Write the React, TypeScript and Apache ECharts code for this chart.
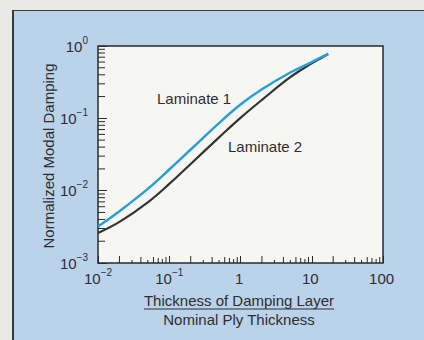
import React, { useEffect, useRef } from 'react';
import * as echarts from 'echarts';

// Thickness of damping layer / nominal ply thickness
const X_VALUES = [0.01, 0.02, 0.05, 0.1, 0.2, 0.5, 1, 2, 5, 10, 13, 17];
// Normalized modal damping
const LAMINATE_1 = [0.0032, 0.0052, 0.0106, 0.0196, 0.0371, 0.086, 0.155, 0.252, 0.43, 0.60, 0.684, 0.775];
const LAMINATE_2 = [0.0026, 0.0037, 0.0069, 0.0124, 0.0234, 0.0545, 0.1016, 0.18, 0.37, 0.575, 0.665, 0.775];

const X_TICK_LABELS = [['10', '\u22122'], ['10', '\u22121'], ['1', ''], ['10', ''], ['100', '']];
const Y_TICK_LABELS = [['10', '\u22123'], ['10', '\u22122'], ['10', '\u22121'], ['10', '0']];

const MINOR_MULTIPLIERS = [2, 3, 4, 5, 6, 7, 8, 9];
const X_DECADES = [0.01, 0.1, 1, 10];
const Y_DECADES = [0.001, 0.01, 0.1];

const TEXT = '#2e2e2e';
const FONT = '"Liberation Sans", Arial, sans-serif';
const X_MINOR_LEN: Record<number, number> = { 2: 7, 3: 3, 4: 6, 5: 3, 6: 6, 7: 5, 8: 4, 9: 6 };
const Y_MINOR_LEN = 7;

export default function App() {
  const ref = useRef<HTMLDivElement>(null);
  useEffect(() => {
    document.body.style.margin = '0';
    const chart = echarts.init(ref.current!, null, { renderer: 'svg' });

    const rich = {
      b: { fontSize: 15, fontFamily: FONT, color: TEXT },
      s: { fontSize: 10, fontFamily: FONT, color: TEXT, padding: [0, 0, 12, 0] },
    };
    const fmt = (labels: string[][], offset: number) => (v: number) => {
      const idx = Math.round(Math.log10(v)) + offset;
      const l = labels[idx];
      if (!l) return '';
      return `{b|${l[0]}}{s|${l[1] || ' '}}`;
    };

    const xMinor: number[][] = [];
    X_DECADES.forEach((d) => MINOR_MULTIPLIERS.forEach((m) => xMinor.push([d * m, 0.001, m])));
    const yMinor: number[][] = [];
    Y_DECADES.forEach((d) => MINOR_MULTIPLIERS.forEach((m) => yMinor.push([0.01, d * m, m])));

    const option: any = {
      animation: false,
      grid: {
        left: 98,
        right: 41,
        top: 46,
        bottom: 77,
        show: true,
        backgroundColor: '#f6f6f3',
        borderColor: '#2a2a2a',
        borderWidth: 1.5,
      },
      xAxis: {
        type: 'log',
        logBase: 10,
        min: 0.01,
        max: 100,
        axisLine: { show: false },
        splitLine: { show: false },
        axisTick: { show: true, inside: true, length: 7, lineStyle: { color: '#2a2a2a', width: 1 } },
        axisLabel: { formatter: fmt(X_TICK_LABELS, 2), rich, margin: 4 },
      },
      yAxis: {
        type: 'log',
        logBase: 10,
        min: 0.001,
        max: 1,
        axisLine: { show: false },
        splitLine: { show: false },
        axisTick: { show: true, inside: true, length: 9, lineStyle: { color: '#2a2a2a', width: 1 } },
        axisLabel: { formatter: fmt(Y_TICK_LABELS, 3), rich, margin: 10 },
      },
      graphic: [
        {
          type: 'text',
          x: 48,
          y: 156,
          rotation: Math.PI / 2,
          style: { text: 'Normalized Modal Damping', fontSize: 15, fontFamily: FONT, fill: TEXT, align: 'center', verticalAlign: 'middle' },
        },
        {
          type: 'text',
          x: 239,
          y: 300,
          style: { text: 'Thickness of Damping Layer', fontSize: 15, fontFamily: FONT, fill: TEXT, align: 'center', verticalAlign: 'middle' },
        },
        {
          type: 'line',
          shape: { x1: 144, y1: 309, x2: 334, y2: 309 },
          style: { stroke: TEXT, lineWidth: 1.2 },
        },
        {
          type: 'text',
          x: 239,
          y: 319,
          style: { text: 'Nominal Ply Thickness', fontSize: 15, fontFamily: FONT, fill: TEXT, align: 'center', verticalAlign: 'middle' },
        },
        {
          type: 'text',
          x: 157,
          y: 98,
          style: { text: 'Laminate 1', fontSize: 15, fontFamily: FONT, fill: TEXT, align: 'left', verticalAlign: 'middle' },
        },
        {
          type: 'text',
          x: 228,
          y: 146,
          style: { text: 'Laminate 2', fontSize: 15, fontFamily: FONT, fill: TEXT, align: 'left', verticalAlign: 'middle' },
        },
      ],
      series: [
        {
          type: 'custom',
          silent: true,
          clip: false,
          data: xMinor,
          renderItem: (_p: any, api: any) => {
            const pt = api.coord([api.value(0), api.value(1)]);
            const len = X_MINOR_LEN[api.value(2)] || 4;
            return {
              type: 'line',
              shape: { x1: pt[0], y1: pt[1], x2: pt[0], y2: pt[1] - len },
              style: { stroke: '#2a2a2a', lineWidth: 1 },
            };
          },
        },
        {
          type: 'custom',
          silent: true,
          clip: false,
          data: yMinor,
          renderItem: (_p: any, api: any) => {
            const pt = api.coord([api.value(0), api.value(1)]);
            return {
              type: 'line',
              shape: { x1: pt[0], y1: pt[1], x2: pt[0] + Y_MINOR_LEN, y2: pt[1] },
              style: { stroke: '#2a2a2a', lineWidth: 1 },
            };
          },
        },
        {
          name: 'Laminate 2',
          type: 'line',
          smooth: 0.4,
          showSymbol: false,
          data: X_VALUES.map((x, i) => [x, LAMINATE_2[i]]),
          lineStyle: { color: '#333333', width: 2.2 },
        },
        {
          name: 'Laminate 1',
          type: 'line',
          smooth: 0.4,
          showSymbol: false,
          data: X_VALUES.map((x, i) => [x, LAMINATE_1[i]]),
          lineStyle: { color: '#2b9fd4', width: 2.5 },
        },
      ],
    };
    chart.setOption(option);
    return () => chart.dispose();
  }, []);

  return (
    <div style={{ position: 'fixed', left: 0, top: 0, width: 424, height: 340, background: '#e9e9e6', overflow: 'hidden' }}>
      <div
        style={{
          position: 'absolute',
          left: 12,
          top: 10,
          width: 430,
          height: 350,
          background: '#bad2ea',
          borderLeft: '2px solid #3a3a3a',
          borderTop: '1.5px solid #3a3a3a',
        }}
      />
      <div ref={ref} style={{ position: 'absolute', left: 0, top: 0, width: 424, height: 340 }} />
    </div>
  );
}
